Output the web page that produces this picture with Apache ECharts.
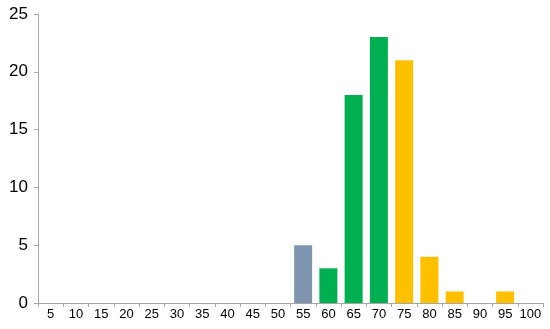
<!DOCTYPE html>
<html>
<head>
<meta charset="utf-8">
<script src="https://cdn.jsdelivr.net/npm/echarts@6/dist/echarts.min.js"></script>
<style>
  html, body { margin: 0; padding: 0; background: #fff; }
  #main { width: 550px; height: 329px; }
</style>
</head>
<body>
<div id="main"></div>
<script>
// categories on the x axis
const categories = ['5', '10', '15', '20', '25', '30', '35', '40', '45', '50',
  '55', '60', '65', '70', '75', '80', '85', '90', '95', '100']
// bar heights
const counts = [0, 0, 0, 0, 0, 0, 0, 0, 0, 0, 5, 3, 18, 23, 21, 4, 1, 0, 1, 0]
const yTicks = [0, 5, 10, 15, 20, 25]

const chart = echarts.init(document.getElementById('main'))

// bar colour by score band
const barColor = (p) => {
  const v = Number(p.name)
  if (v <= 55) return '#8095B0'
  if (v <= 70) return '#00B050'
  return '#FFC000'
}

chart.setOption({
  animation: false,
  grid: { left: 38, right: 7, top: 14, bottom: 26, containLabel: false },
  xAxis: {
    type: 'category',
    data: categories,
    axisLine: { lineStyle: { color: '#A6A6A6', width: 1 } },
    axisTick: { show: true, length: 4, interval: 0, lineStyle: { color: '#A6A6A6' } },
    axisLabel: { color: '#000', fontFamily: 'Liberation Sans', fontSize: 13, margin: 5, interval: 0 }
  },
  yAxis: {
    type: 'value',
    min: yTicks[0],
    max: yTicks[yTicks.length - 1],
    interval: 5,
    axisLine: { show: true, lineStyle: { color: '#A6A6A6', width: 1 } },
    axisTick: { show: true, length: 4, lineStyle: { color: '#A6A6A6' } },
    splitLine: { show: false },
    axisLabel: { color: '#000', fontFamily: 'Liberation Sans', fontSize: 17, margin: 10 }
  },
  series: [
    {
      type: 'bar',
      data: counts,
      barWidth: 18,
      itemStyle: { color: barColor }
    }
  ]
})
</script>
</body>
</html>
